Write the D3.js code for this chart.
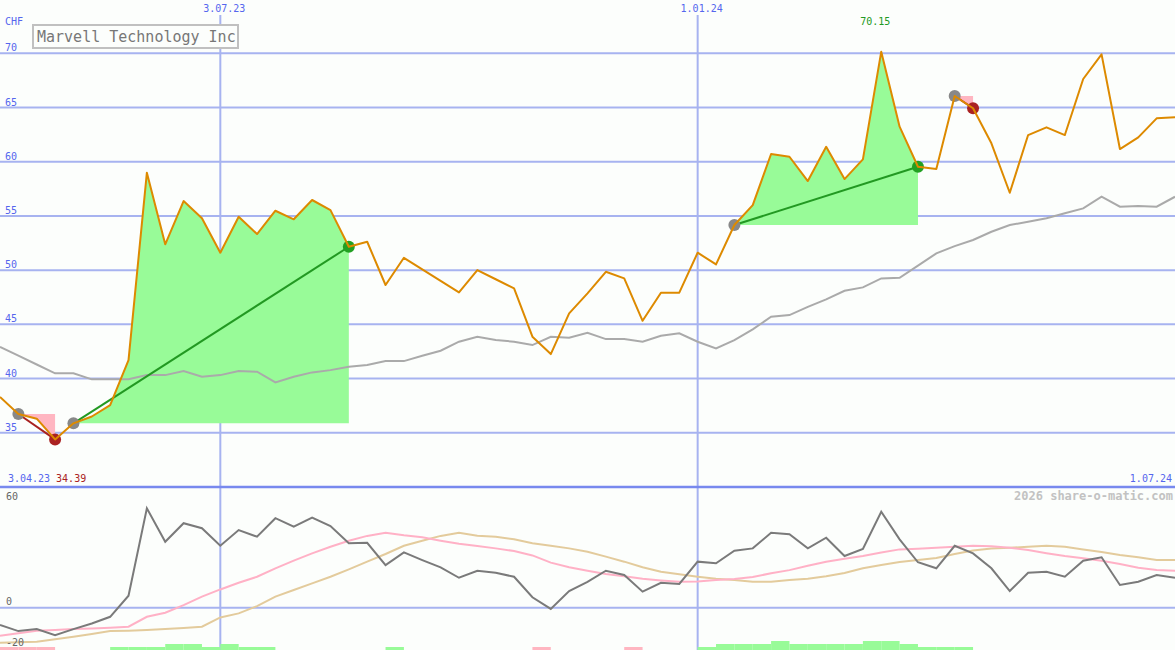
<!DOCTYPE html>
<html><head><meta charset="utf-8">
<script src="https://cdn.jsdelivr.net/npm/d3@7"></script>
<style>
body{margin:0;background:#fcfefc;}
svg{display:block;}
text{font-family:"DejaVu Sans Mono","Liberation Mono",monospace;}
</style>
</head><body>
<svg id="chart" width="1175" height="650"></svg>
<script>
// ---- data (weekly points, index 0 = first week shown) ----
const price = [38.3,36.73,36.3,34.39,35.87,36.5,37.56,41.71,58.99,52.38,
  56.37,54.78,51.61,54.93,53.33,55.48,54.69,56.47,55.54,52.16,
  52.62,48.63,51.14,50.08,49.01,47.95,50.01,49.16,48.32,43.86,
  42.26,46.01,47.86,49.85,49.24,45.33,47.92,47.92,51.61,50.53,
  54.16,56.0,60.71,60.46,58.22,61.38,58.4,60.22,70.15,63.23,
  59.54,59.33,66.06,64.93,61.7,57.14,62.46,63.17,62.46,67.63,
  69.9,61.17,62.25,64.0,64.1];
const average = [42.93,42.11,41.3,40.48,40.48,39.93,39.93,39.93,40.32,40.32,
  40.69,40.17,40.32,40.69,40.63,39.65,40.17,40.57,40.78,41.09,
  41.25,41.61,41.61,42.1,42.57,43.4,43.86,43.55,43.4,43.09,
  43.86,43.77,44.23,43.64,43.64,43.4,43.95,44.17,43.4,42.79,
  43.55,44.54,45.7,45.86,46.62,47.31,48.1,48.41,49.24,49.3,
  50.41,51.55,52.22,52.78,53.54,54.16,54.47,54.78,55.24,55.7,
  56.77,55.85,55.91,55.85,56.77];
const momentum = [-8.6,-11.6,-10.6,-13.6,-10.6,-7.8,-4.5,6.0,49.4,32.8,
  42.0,39.5,30.8,38.6,35.3,44.5,40.3,44.8,40.6,32.0,
  32.3,21.2,27.5,23.7,20.1,14.9,18.4,17.4,15.4,5.2,
  -0.6,8.3,12.9,18.4,16.3,8.0,12.4,11.8,22.9,22.1,
  28.3,29.5,37.3,36.5,29.5,34.8,25.7,29.2,47.7,34.0,
  22.6,19.6,30.8,27.0,19.6,8.3,17.4,17.9,15.4,23.4,
  25.1,11.3,12.9,16.3,14.9];
const smoothFast = [-13.9,-12.7,-11.4,-11.1,-10.6,-10.3,-9.9,-9.4,-4.5,-2.5,
  1.3,5.5,9.1,12.4,15.4,19.6,23.4,27.0,30.3,33.3,
  35.7,37.3,36.0,35.0,33.3,31.8,30.7,29.5,28.2,26.0,
  22.4,20.1,18.4,16.8,15.6,14.4,13.6,12.9,13.1,13.8,
  14.3,15.3,17.1,18.7,20.9,22.9,24.4,25.7,27.4,29.0,
  29.3,29.8,30.3,30.8,30.5,29.8,28.7,27.1,25.7,24.6,
  23.4,21.7,19.9,18.7,18.4];
const smoothSlow = [-17.4,-17.2,-16.9,-15.7,-14.4,-13.1,-11.6,-11.4,-11.1,-10.6,
  -10.1,-9.4,-4.8,-2.8,0.8,5.5,8.8,12.1,15.4,19.1,
  22.9,26.7,30.8,33.3,35.7,37.3,35.8,35.3,34.0,32.0,
  30.8,29.5,27.8,25.4,22.9,20.1,17.9,16.6,15.4,14.4,
  13.8,12.9,12.9,13.8,14.4,15.6,17.3,19.6,21.2,22.7,
  23.7,24.7,26.7,28.5,29.5,29.8,30.3,30.8,30.3,29.0,
  27.7,26.2,25.1,23.7,23.7];
// signal strength per week segment (i -> i+1); + buy, - sell
const signalBars = [-1,-1,-1,0,0,0,1,1,1,2,
  2,1,2,1,1,0,0,0,0,0,
  0,1,0,0,0,0,0,0,0,-1,
  0,0,0,0,-1,0,0,0,1,2,
  2,2,3,2,2,2,2,3,3,2,
  1,1,1,0,0,0,0,0,0,0,
  0,0,0,0];
// trades: start index, end index, kind
const tradeStart = [1, 4, 40, 52];
const tradeEnd   = [3, 19, 50, 53];
const tradeKind  = ["short", "long", "long", "short"];
const priceTicks = [35, 40, 45, 50, 55, 60, 65, 70];
const lowerTicks = [60, 0, -20];
const dateIdx = [12, 38];
const dateLabels = ["3.07.23", "1.01.24"];
const firstDate = "3.04.23", lastDate = "1.07.24";
const title = "Marvell Technology Inc";
const currency = "CHF";
const credit = "2026 share-o-matic.com";

// ---- scales ----
const W = 1175, H = 650;
const svg = d3.select("#chart");
const x = d3.scaleLinear().domain([0, price.length - 1]).range([0, W]);
const y = d3.scaleLinear().domain([30, 70]).range([487, 53.3]);
const yl = d3.scaleLinear().domain([-20, 60]).range([648, 487]);
const yb = d3.scaleLinear().domain([0, 3]).range([650, 641]);

const gridC = "#a7b3f0", labC = "#5566ee";

// background
svg.append("rect").attr("width", W).attr("height", H).attr("fill", "#fcfefc");

// horizontal grid (price)
svg.append("g").selectAll("line").data(priceTicks).join("line")
  .attr("x1", 0).attr("x2", W)
  .attr("y1", d => y(d)).attr("y2", d => y(d))
  .attr("stroke", gridC).attr("stroke-width", 2);
// lower panel zero line
svg.append("line").attr("x1", 0).attr("x2", W)
  .attr("y1", yl(0)).attr("y2", yl(0)).attr("stroke", gridC).attr("stroke-width", 2);
// vertical date lines
svg.append("g").selectAll("line").data(dateIdx).join("line")
  .attr("x1", d => x(d)).attr("x2", d => x(d))
  .attr("y1", 15).attr("y2", H)
  .attr("stroke", gridC).attr("stroke-width", 2);
// separator
svg.append("line").attr("x1", 0).attr("x2", W)
  .attr("y1", yl(60)).attr("y2", yl(60)).attr("stroke", "#7889ee").attr("stroke-width", 2.5);

// trade fills
tradeStart.forEach((s, k) => {
  const e = tradeEnd[k];
  const idx = d3.range(s, e + 1);
  const base = y(price[s]);
  const area = d3.area().x(i => x(i)).y0(base).y1(i => y(price[i]));
  svg.append("path").attr("d", area(idx))
    .attr("fill", tradeKind[k] === "long" ? "#98fb98" : "#ffb6c1");
});

// moving average
const line = (arr, sc) => d3.line().x((d, i) => x(i)).y(d => sc(d))(arr);
svg.append("path").attr("d", line(average, y)).attr("fill", "none")
  .attr("stroke", "#aaaaaa").attr("stroke-width", 2);

// trade lines and dots
tradeStart.forEach((s, k) => {
  const e = tradeEnd[k];
  const long = tradeKind[k] === "long";
  svg.append("line").attr("x1", x(s)).attr("y1", y(price[s]))
    .attr("x2", x(e)).attr("y2", y(price[e]))
    .attr("stroke", long ? "#229922" : "#a82020").attr("stroke-width", 2);
});
tradeStart.forEach((s, k) => {
  const e = tradeEnd[k];
  const long = tradeKind[k] === "long";
  svg.append("circle").attr("cx", x(s)).attr("cy", y(price[s])).attr("r", 6).attr("fill", "#888888");
  svg.append("circle").attr("cx", x(e)).attr("cy", y(price[e])).attr("r", 6)
    .attr("fill", long ? "#22a022" : "#aa2222");
});

// price line
svg.append("path").attr("d", line(price, y)).attr("fill", "none")
  .attr("stroke", "#dd8a00").attr("stroke-width", 2).attr("stroke-linejoin", "round");

// lower panel lines
svg.append("path").attr("d", line(smoothSlow, yl)).attr("fill", "none")
  .attr("stroke", "#e3cb9c").attr("stroke-width", 2);
svg.append("path").attr("d", line(smoothFast, yl)).attr("fill", "none")
  .attr("stroke", "#ffb1c6").attr("stroke-width", 2);
svg.append("path").attr("d", line(momentum, yl)).attr("fill", "none")
  .attr("stroke", "#7a7a7a").attr("stroke-width", 2);

// signal bars
svg.append("g").selectAll("rect").data(signalBars.map((v, i) => ({v, i})).filter(d => d.v !== 0)).join("rect")
  .attr("x", d => x(d.i)).attr("width", d => x(d.i + 1) - x(d.i))
  .attr("y", d => yb(Math.abs(d.v))).attr("height", d => yb(0) - yb(Math.abs(d.v)))
  .attr("fill", d => d.v > 0 ? "#98fb98" : "#ffb6c1");

// ---- texts ----
const txt = (t, xx, yy, opt = {}) => svg.append("text").text(t)
  .attr("x", xx).attr("y", yy)
  .attr("font-size", opt.size || 10)
  .attr("fill", opt.fill || labC)
  .attr("text-anchor", opt.anchor || "start")
  .attr("font-weight", opt.weight || "normal");

txt(currency, 5, 25);
priceTicks.forEach(v => txt(v, 5, y(v) - 2));
dateIdx.forEach((d, k) => txt(dateLabels[k], x(d) + 4, 12, {anchor: "middle"}));
txt(firstDate, 8, 482);
const minI = d3.minIndex(price), maxI = d3.maxIndex(price);
txt(d3.format(".2f")(price[minI]), x(minI) + 1, 482, {fill: "#aa2222"});
txt(d3.format(".2f")(price[maxI]), x(maxI) - 6, 25, {fill: "#229922", anchor: "middle"});
txt(lastDate, 1172, 482, {anchor: "end"});
txt(credit, 1173, 500, {fill: "#c2c2c2", size: 12, anchor: "end", weight: "bold"});
lowerTicks.forEach(v => txt(v, 6, v === 60 ? 500 : (v === 0 ? 605 : 646), {fill: "#666666"}));

// title box
svg.append("rect").attr("x", 33).attr("y", 25).attr("width", 205).attr("height", 23)
  .attr("fill", "#fcfefc").attr("stroke", "#c0c0c0").attr("stroke-width", 2);
txt(title, 37, 41.5, {fill: "#777777", size: 15});
</script>
</body></html>
